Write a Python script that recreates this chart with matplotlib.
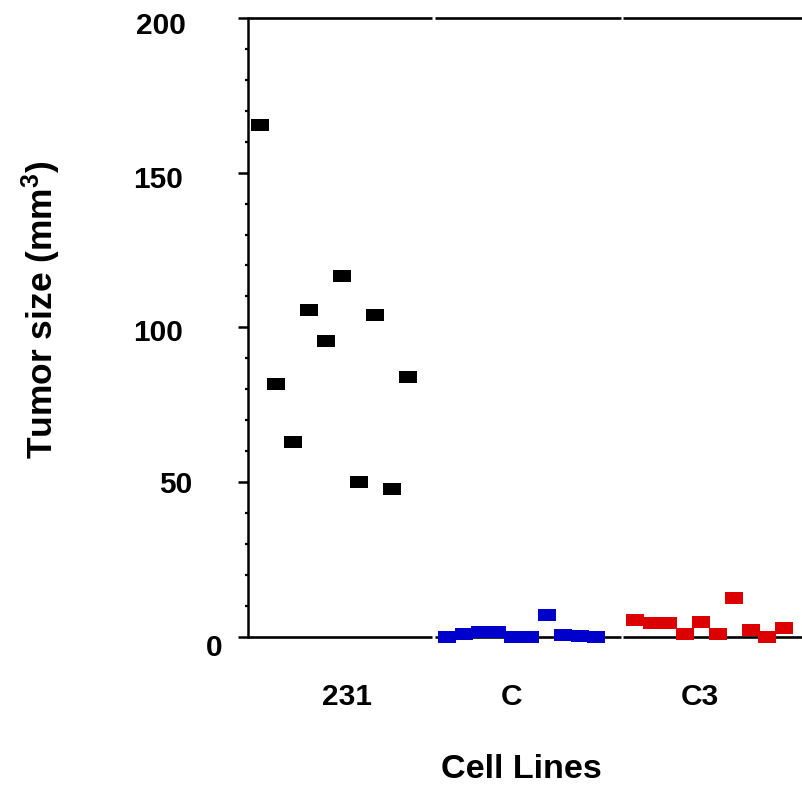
import matplotlib
matplotlib.use('Agg')
import matplotlib.pyplot as plt
from matplotlib.transforms import ScaledTranslation
from matplotlib.ticker import MultipleLocator

plt.rcParams['font.family'] = ['Liberation Sans', 'DejaVu Sans']
plt.rcParams['font.weight'] = 'bold'
plt.rcParams['mathtext.fontset'] = 'custom'
plt.rcParams['mathtext.rm'] = 'Liberation Sans:bold'
plt.rcParams['mathtext.bf'] = 'Liberation Sans:bold'
plt.rcParams['mathtext.it'] = 'Liberation Sans:bold'

# ---- data ----
categories = ['231', 'C', 'C3']
vals_231 = [165.4, 81.7, 62.9, 105.6, 95.5, 116.7, 50.0, 104.0, 47.6, 83.9]
vals_C = [0.0, 0.9, 1.5, 1.5, 0.0, 0.0, 7.0, 0.45, 0.3, 0.0]
vals_C3 = [5.3, 4.3, 4.3, 0.9, 4.8, 0.9, 12.4, 2.1, 0.0, 2.7]
yticks = [0, 50, 100, 150, 200]

colors = ['#000000', '#0000cc', '#dd0000']

fig = plt.figure(figsize=(8.03, 7.94), dpi=100)
ax = fig.add_axes([248 / 803, (794 - 636.7) / 794, 555 / 803, (636.7 - 18) / 794])

step = 0.0879
marker = [(-1.5, -1), (1.5, -1), (1.5, 1), (-1.5, 1), (-1.5, -1)]
for g, (vals, c) in enumerate(zip([vals_231, vals_C, vals_C3], colors)):
    xs = [g + (i - (len(vals) - 1) / 2) * step for i in range(len(vals))]
    ax.plot(xs, vals, linestyle='none', marker=marker, markersize=13,
            color=c, mec=c, mew=0, clip_on=False, zorder=3)

ax.set_xlim(-0.458, 2.498)
ax.set_ylim(0, 200)

# spines
for s in ['top', 'bottom', 'right']:
    ax.spines[s].set_visible(False)
ax.spines['left'].set_linewidth(1.8)

segs = [(0.0, 0.3315), (0.337, 0.672), (0.6757, 1.0)]
for yy in (0, 1):
    for a, b in segs:
        ax.plot([a, b], [yy, yy], transform=ax.transAxes, color='k', lw=1.9,
                solid_capstyle='butt', clip_on=False, zorder=1)

# y ticks
ax.set_yticks(yticks)
ax.set_yticklabels([str(v) for v in yticks])
ax.yaxis.set_minor_locator(MultipleLocator(10))
ax.tick_params(axis='y', which='major', direction='out', length=7, width=1.8,
               pad=38, labelsize=21.5)
ax.tick_params(axis='y', which='minor', direction='out', length=2, width=1.6)

yoff = {0: (37, -8), 50: (7, 0), 100: (-2, -3), 150: (-2, -4), 200: (0, -4.5)}
for v, lab in zip(yticks, ax.get_yticklabels()):
    dx, dy = yoff[v]
    lab.set_transform(lab.get_transform() +
                      ScaledTranslation(dx / 100, dy / 100, fig.dpi_scale_trans))
    lab.set_fontweight('bold')

# x ticks
ax.set_xticks(range(len(categories)))
ax.set_xticklabels(categories)
ax.tick_params(axis='x', which='both', length=0, pad=33, labelsize=21.5)
xoff = [13, -10, -10]
for dx, lab in zip(xoff, ax.get_xticklabels()):
    lab.set_transform(lab.get_transform() +
                      ScaledTranslation(dx / 100, 0, fig.dpi_scale_trans))
    lab.set_fontweight('bold')

ax.set_xlabel('Cell Lines', fontsize=24.6, fontweight='bold', va='top')
ax.xaxis.set_label_coords(0.492, -0.19)
ax.set_ylabel(r'Tumor size (mm$^{3}$)', fontsize=25.5, fontweight='bold', va='center')
ax.yaxis.set_label_coords(-0.373, 0.528)

fig.savefig('out.png', dpi=100)
